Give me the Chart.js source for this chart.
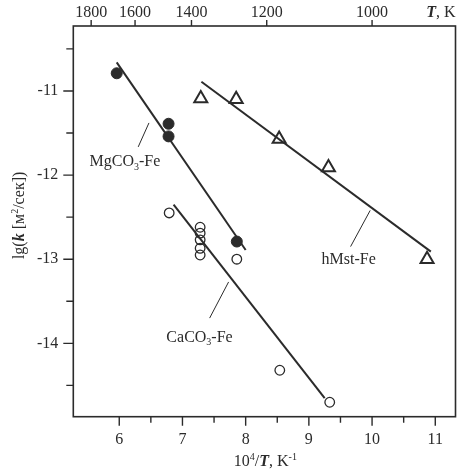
<!DOCTYPE html>
<html>
<head>
<meta charset="utf-8">
<script src="https://cdn.jsdelivr.net/npm/chart.js@4.4.1/dist/chart.umd.min.js"></script>
<style>
  html, body { margin: 0; padding: 0; background: #fff; }
  canvas { display: block; }
</style>
</head>
<body>
<canvas id="chart" width="465" height="471"></canvas>
<script>
// values: x = 10^4/T (K^-1), y = lg(k)
const mgX = [5.96, 6.78, 6.78, 7.86];
const mgY = [-10.79, -11.39, -11.54, -12.79];
const caX = [6.79, 7.28, 7.28, 7.28, 7.28, 7.28, 7.86, 8.54, 9.33];
const caY = [-12.45, -12.62, -12.69, -12.77, -12.87, -12.95, -13.00, -14.32, -14.70];
const hmX = [7.29, 7.85, 8.53, 9.31, 10.87];
const hmY = [-11.09, -11.10, -11.57, -11.91, -13.00];

// fitted lines (end points)
const mgFitX = [5.96, 8.00];
const mgFitY = [-10.66, -12.89];
const caFitX = [6.86, 9.25];
const caFitY = [-12.35, -14.65];
const hmFitX = [7.30, 10.93];
const hmFitY = [-10.89, -12.91];

// leader lines from curve to its label
const mgLeadX = [6.47, 6.30];
const mgLeadY = [-11.38, -11.665];
const caLeadX = [7.73, 7.43];
const caLeadY = [-13.27, -13.70];
const hmLeadX = [9.97, 9.66];
const hmLeadY = [-12.42, -12.85];

// curve labels and where they sit (data coords)
const curveLabels = [
  [{ t: 'MgCO' }, { t: '3', sub: true }, { t: '-Fe' }],
  [{ t: 'CaCO' }, { t: '3', sub: true }, { t: '-Fe' }],
  [{ t: 'hMst-Fe' }]
];
const labelX = [6.09, 7.27, 9.63];
const labelY = [-11.83, -13.92, -12.99];

// axis ticks
const xTicks = [6, 7, 8, 9, 10, 11];
const xMinor = [6.5, 7.5, 8.5, 9.5, 10.5];
const yTicks = [-11, -12, -13, -14];
const yMinor = [-10.5, -11.5, -12.5, -13.5, -14.5];
const topTemps = [1800, 1600, 1400, 1200, 1000];

const X_MIN = 5.273, X_MAX = 11.32;
const Y_MIN = -14.872, Y_MAX = -10.228;
const INK = '#2b2b2b';
const FONT = 'Liberation Serif';

const pts = (xs, ys) => xs.map((x, i) => ({ x: x, y: ys[i] }));

function partFont(p, size) {
  const s = (p.sub || p.sup) ? Math.round(size * 0.62) : size;
  return (p.bi ? 'italic bold ' : '') + s + 'px "' + FONT + '"';
}

function richWidth(ctx, parts, size) {
  let w = 0;
  parts.forEach(p => { ctx.font = partFont(p, size); w += ctx.measureText(p.t).width; });
  return w;
}

function drawRich(ctx, parts, x, y, size) {
  // x,y = centre of the text run; baseline sits at y + size*0.33
  let cx = x - richWidth(ctx, parts, size) / 2;
  const base = y + size * 0.33;
  ctx.textAlign = 'left';
  ctx.textBaseline = 'alphabetic';
  parts.forEach(p => {
    ctx.font = partFont(p, size);
    let dy = 0;
    if (p.sub) dy = size * 0.22;
    if (p.sup) dy = -size * 0.38;
    ctx.fillText(p.t, cx, base + dy);
    cx += ctx.measureText(p.t).width;
  });
}

const frame = {
  id: 'frame',
  afterDraw(chart) {
    const ctx = chart.ctx;
    const a = chart.chartArea;
    const xs = chart.scales.x, ys = chart.scales.y, xt = chart.scales.xTop;
    ctx.save();
    ctx.strokeStyle = INK;
    ctx.fillStyle = INK;
    ctx.lineWidth = 1.6;
    ctx.strokeRect(a.left, a.top, a.right - a.left, a.bottom - a.top);

    ctx.lineWidth = 1.4;
    ctx.beginPath();
    xTicks.forEach(v => { const p = xs.getPixelForValue(v); ctx.moveTo(p, a.bottom); ctx.lineTo(p, a.bottom + 9); });
    xMinor.forEach(v => { const p = xs.getPixelForValue(v); ctx.moveTo(p, a.bottom); ctx.lineTo(p, a.bottom + 6); });
    yTicks.forEach(v => { const p = ys.getPixelForValue(v); ctx.moveTo(a.left, p); ctx.lineTo(a.left - 10, p); });
    yMinor.forEach(v => { const p = ys.getPixelForValue(v); ctx.moveTo(a.left, p); ctx.lineTo(a.left - 7, p); });
    topTemps.forEach(T => { const p = xt.getPixelForValue(1e4 / T); ctx.moveTo(p, a.top); ctx.lineTo(p, a.top - 6); });
    ctx.stroke();

    // curve labels
    curveLabels.forEach((parts, i) => {
      drawRich(ctx, parts, xs.getPixelForValue(labelX[i]), ys.getPixelForValue(labelY[i]), 16);
    });

    // axis titles
    drawRich(ctx, [{ t: '10' }, { t: '4', sup: true }, { t: '/' }, { t: 'T', bi: true }, { t: ', K' }, { t: '-1', sup: true }],
      (a.left + a.right) / 2 + 1, 461, 16);
    drawRich(ctx, [{ t: 'T', bi: true }, { t: ', K' }], 441, 12, 16);

    ctx.save();
    ctx.translate(19, (a.top + a.bottom) / 2 - 6);
    ctx.rotate(-Math.PI / 2);
    drawRich(ctx, [{ t: 'lg(' }, { t: 'k', bi: true }, { t: ' [м' }, { t: '2', sup: true }, { t: '/сек])' }], 0, 0, 16);
    ctx.restore();
    ctx.restore();
  }
};

const tickFont = { family: FONT, size: 16 };

new Chart(document.getElementById('chart'), {
  type: 'scatter',
  data: {
    datasets: [
      { data: pts(mgX, mgY), pointStyle: 'circle', pointRadius: 5.5, pointBackgroundColor: INK, pointBorderColor: INK, pointBorderWidth: 1, showLine: false },
      { data: pts(caX, caY), pointStyle: 'circle', pointRadius: 4.8, pointBackgroundColor: 'rgba(0,0,0,0)', pointBorderColor: INK, pointBorderWidth: 1.3, showLine: false },
      { data: pts(hmX, hmY), pointStyle: 'triangle', pointRadius: 7.5, pointBackgroundColor: 'rgba(0,0,0,0)', pointBorderColor: INK, pointBorderWidth: 2, showLine: false },
      { data: pts(mgFitX, mgFitY), showLine: true, borderColor: INK, borderWidth: 2, pointRadius: 0 },
      { data: pts(caFitX, caFitY), showLine: true, borderColor: INK, borderWidth: 2, pointRadius: 0 },
      { data: pts(hmFitX, hmFitY), showLine: true, borderColor: INK, borderWidth: 2, pointRadius: 0 },
      { data: pts(mgLeadX, mgLeadY), showLine: true, borderColor: INK, borderWidth: 1, pointRadius: 0 },
      { data: pts(caLeadX, caLeadY), showLine: true, borderColor: INK, borderWidth: 1, pointRadius: 0 },
      { data: pts(hmLeadX, hmLeadY), showLine: true, borderColor: INK, borderWidth: 1, pointRadius: 0 }
    ]
  },
  options: {
    responsive: false,
    animation: false,
    layout: { padding: { left: 0, right: 3.3, top: 0, bottom: 0 } },
    plugins: { legend: { display: false }, tooltip: { enabled: false } },
    scales: {
      x: {
        type: 'linear', position: 'bottom', min: X_MIN, max: X_MAX,
        grid: { display: false, drawTicks: false }, border: { display: false },
        afterBuildTicks: s => { s.ticks = xTicks.map(v => ({ value: v })); },
        afterFit: s => { s.height = 54.3; },
        ticks: { font: tickFont, color: INK, padding: 13, autoSkip: false, maxRotation: 0 }
      },
      xTop: {
        type: 'linear', position: 'top', min: X_MIN, max: X_MAX,
        grid: { display: false, drawTicks: false }, border: { display: false },
        afterBuildTicks: s => { s.ticks = topTemps.map(T => ({ value: 1e4 / T })); },
        afterFit: s => { s.height = 26; },
        ticks: { font: tickFont, color: INK, padding: 4, autoSkip: false, maxRotation: 0,
          callback: v => String(Math.round(1e4 / v)) }
      },
      y: {
        type: 'linear', position: 'left', min: Y_MIN, max: Y_MAX,
        grid: { display: false, drawTicks: false }, border: { display: false },
        afterBuildTicks: s => { s.ticks = yTicks.map(v => ({ value: v })); },
        afterFit: s => { s.width = 73.3; },
        ticks: { font: tickFont, color: INK, padding: 15 }
      }
    }
  },
  plugins: [frame]
});
</script>
</body>
</html>
